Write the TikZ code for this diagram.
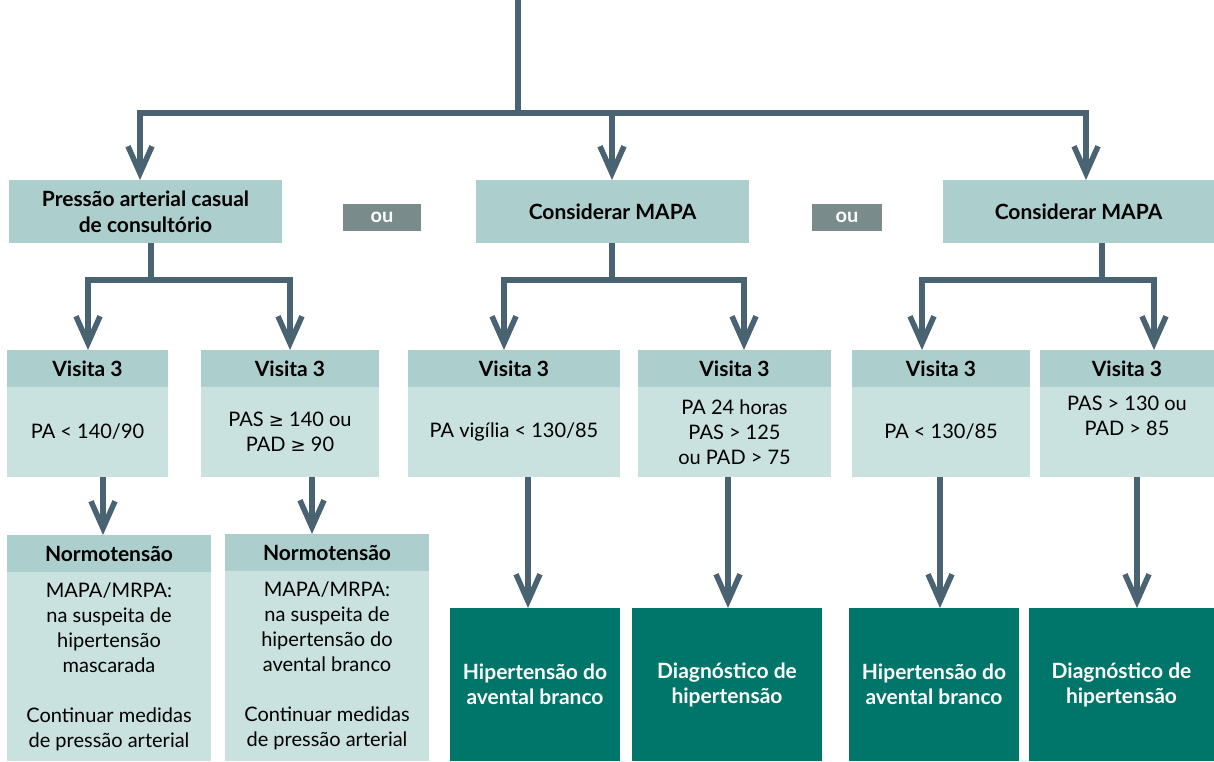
\documentclass[tikz,border=0pt]{standalone}
\usepackage{fontspec}
\setmainfont{Lato}
\newfontfamily\symfont{DejaVu Sans}
\newcommand{\gesym}{{\symfont\fontsize{18}{25}\selectfont ≥}}
\usetikzlibrary{arrows.meta,calc}
\definecolor{lnc}{HTML}{4A6372}
\definecolor{hdr}{HTML}{ACCECD}
\definecolor{bdy}{HTML}{C9E1DF}
\definecolor{grn}{HTML}{00766B}
\definecolor{oug}{HTML}{798B8A}
\begin{document}
\begin{tikzpicture}[x=1pt,y=-1pt,
  font=\fontsize{20}{25}\selectfont,
  box/.style={rectangle, inner sep=0pt, outer sep=0pt, anchor=north west, align=center, text=black},
  hdrbox/.style={box, fill=hdr, font=\fontsize{21}{26}\selectfont\bfseries},
  bodybox/.style={box, fill=bdy, font=\fontsize{20}{25}\selectfont},
  grnbox/.style={box, fill=grn, text=white, font=\fontsize{21}{25}\selectfont\bfseries},
  oubox/.style={box, fill=oug, text=white, font=\fontsize{20}{25}\selectfont\bfseries},
  ln/.style={draw=lnc, line width=5.5pt},
  bar/.style={ln, line cap=rect},
  arr/.style={ln, -{Straight Barb[length=27pt,width=24pt]}}]
\useasboundingbox (0,0) rectangle (1214,761);
% top row
\node[hdrbox, minimum width=273pt, minimum height=63pt] (p1) at (9,180) {Pressão arterial casual\\de consultório};
\node[oubox, minimum width=78pt, minimum height=27pt] (ou1) at (343,204) {ou};
\node[hdrbox, minimum width=273pt, minimum height=63pt] (m1) at (476,180) {Considerar MAPA};
\node[oubox, minimum width=70pt, minimum height=27pt] (ou2) at (812,204) {ou};
\node[hdrbox, minimum width=271pt, minimum height=63pt] (m2) at (943,180) {Considerar MAPA};
% visita row
\node[hdrbox, minimum width=161pt, minimum height=37pt] (vAh) at (7,350) {Visita 3};
\node[bodybox, minimum width=161pt, minimum height=90pt] (vAb) at (7,387) {PA < 140/90};
\node[hdrbox, minimum width=178pt, minimum height=37pt] (vBh) at (201,350) {Visita 3};
\node[bodybox, minimum width=178pt, minimum height=90pt] (vBb) at (201,387) {PAS \gesym{} 140 ou\\PAD \gesym{} 90};
\node[hdrbox, minimum width=212pt, minimum height=37pt] (vCh) at (408,350) {Visita 3};
\node[bodybox, minimum width=212pt, minimum height=90pt] (vCb) at (408,387) {PA vigília < 130/85};
\node[hdrbox, minimum width=193pt, minimum height=37pt] (vDh) at (638,350) {Visita 3};
\node[bodybox, minimum width=193pt, minimum height=90pt] (vDb) at (638,387) {PA 24 horas\\PAS > 125\\ou PAD > 75};
\node[hdrbox, minimum width=178pt, minimum height=37pt] (vEh) at (852,350) {Visita 3};
\node[bodybox, minimum width=178pt, minimum height=90pt] (vEb) at (852,387) {PA < 130/85};
\node[hdrbox, minimum width=174pt, minimum height=37pt] (vFh) at (1040,350) {Visita 3};
\node[bodybox, minimum width=174pt, minimum height=90pt] (vFb) at (1040,387) {PAS > 130 ou\\PAD > 85\\\strut};
% normotensao
\node[hdrbox, minimum width=204pt, minimum height=37pt] (nAh) at (7,535) {Normotensão};
\node[bodybox, minimum width=204pt, minimum height=189pt] (nAb) at (7,572) {MAPA/MRPA:\\na suspeita de\\hipertensão\\mascarada\\[25pt]Continuar medidas\\de pressão arterial};
\node[hdrbox, minimum width=204pt, minimum height=37pt] (nBh) at (225,534) {Normotensão};
\node[bodybox, minimum width=204pt, minimum height=190pt] (nBb) at (225,571) {MAPA/MRPA:\\na suspeita de\\hipertensão do\\avental branco\\[25pt]Continuar medidas\\de pressão arterial};
% green results
\node[grnbox, minimum width=170pt, minimum height=153pt] (gC) at (450,608) {Hipertensão do\\avental branco};
\node[grnbox, minimum width=190pt, minimum height=153pt] (gD) at (632,608) {Diagnóstico de\\hipertensão};
\node[grnbox, minimum width=170pt, minimum height=153pt] (gE) at (849,608) {Hipertensão do\\avental branco};
\node[grnbox, minimum width=185pt, minimum height=153pt] (gF) at (1029,608) {Diagnóstico de\\hipertensão};
% connectors top
\coordinate (top) at (518,0);
\coordinate (bL) at (140,113);
\coordinate (bM) at (612,113);
\coordinate (bR) at (1086,113);
\draw[ln] (top) -- (top |- bL);
\draw[bar] (bL) -- (bR);
\draw[arr] (bL) -- (bL |- p1.north);
\draw[arr] (bM) -- (bM |- m1.north);
\draw[arr] (bR) -- (bR |- m2.north);
% stems
\coordinate (s1) at (151,280);
\coordinate (s1L) at (88,280);
\coordinate (s1R) at (290,280);
\draw[ln] (s1 |- p1.south) -- (s1);
\draw[bar] (s1L) -- (s1R);
\draw[arr] (s1L) -- (s1L |- vAh.north);
\draw[arr] (s1R) -- (s1R |- vBh.north);
\coordinate (s2) at (612,280);
\coordinate (s2L) at (504,280);
\coordinate (s2R) at (744,280);
\draw[ln] (s2 |- m1.south) -- (s2);
\draw[bar] (s2L) -- (s2R);
\draw[arr] (s2L) -- (s2L |- vCh.north);
\draw[arr] (s2R) -- (s2R |- vDh.north);
\coordinate (s3) at (1102,280);
\coordinate (s3L) at (922,280);
\coordinate (s3R) at (1154,280);
\draw[ln] (s3 |- m2.south) -- (s3);
\draw[bar] (s3L) -- (s3R);
\draw[arr] (s3L) -- (s3L |- vEh.north);
\draw[arr] (s3R) -- (s3R |- vFh.north);
% lower arrows
\coordinate (xA) at (103,0);
\coordinate (xB) at (312,0);
\coordinate (xC) at (528,0);
\coordinate (xD) at (728,0);
\coordinate (xE) at (940,0);
\coordinate (xF) at (1137,0);
\draw[arr] (xA |- vAb.south) -- (xA |- nAh.north);
\draw[arr] (xB |- vBb.south) -- (xB |- nBh.north);
\draw[arr] (xC |- vCb.south) -- (xC |- gC.north);
\draw[arr] (xD |- vDb.south) -- (xD |- gD.north);
\draw[arr] (xE |- vEb.south) -- (xE |- gE.north);
\draw[arr] (xF |- vFb.south) -- (xF |- gF.north);
\end{tikzpicture}
\end{document}
